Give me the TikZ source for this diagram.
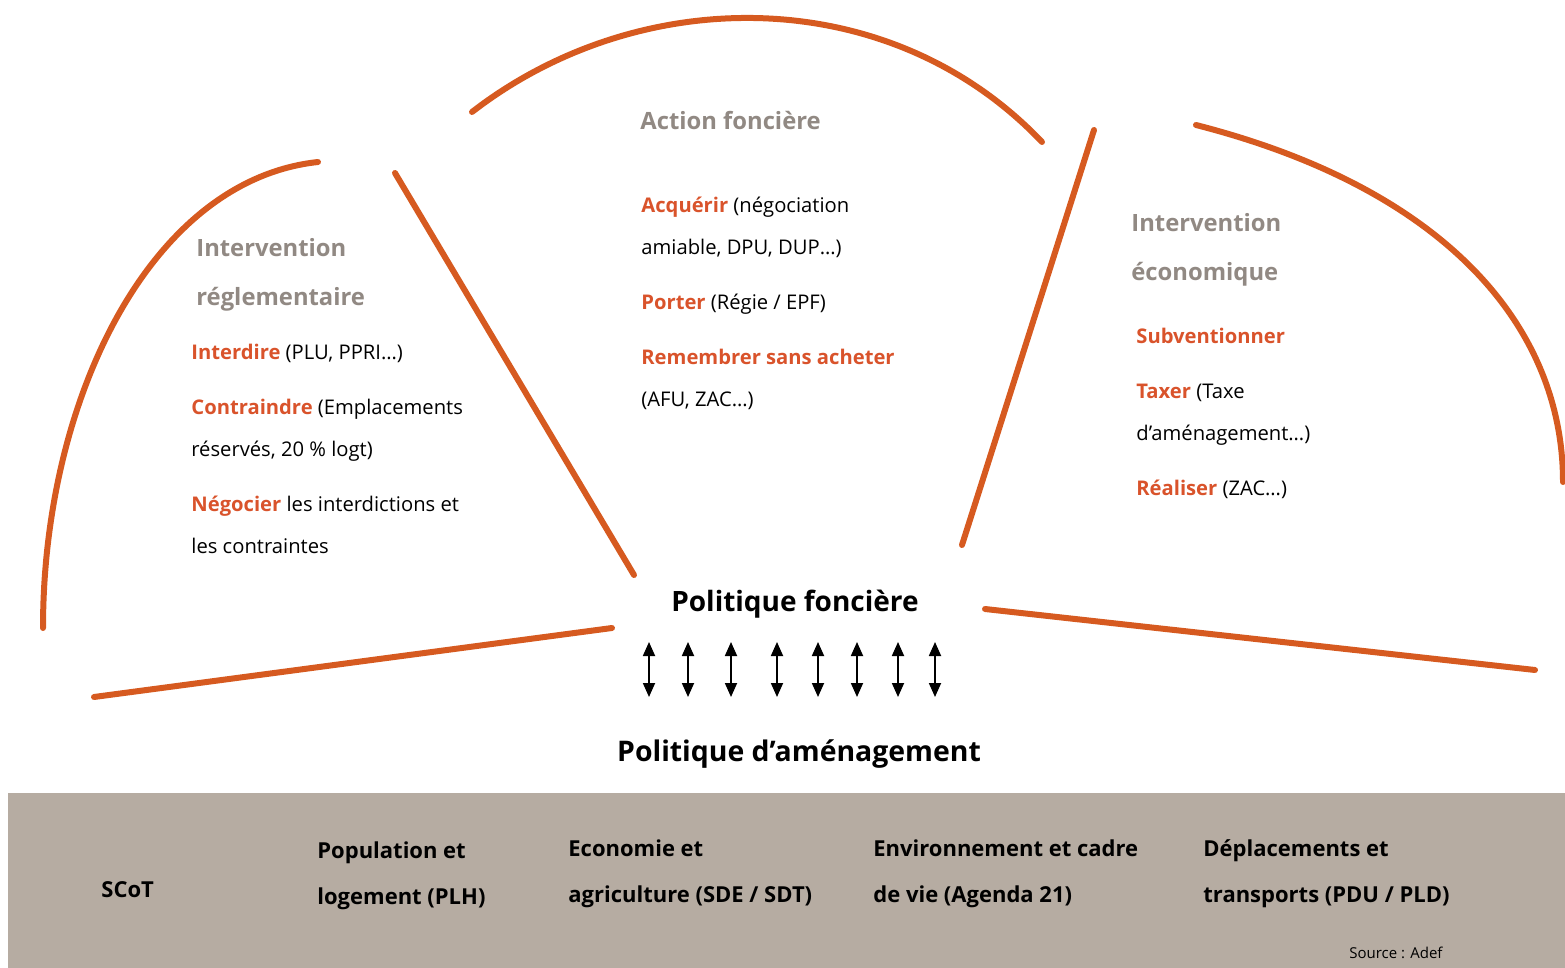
\documentclass[tikz,border=0pt]{standalone}
\usepackage{fontspec}
\setmainfont{Open Sans}
\definecolor{traitorange}{HTML}{D65A20}
\definecolor{verbeorange}{HTML}{D9532B}
\definecolor{titregris}{HTML}{918983}
\definecolor{bandegris}{HTML}{B6ACA2}
\usetikzlibrary{arrows.meta}
\newcommand{\verbe}[1]{\textcolor{verbeorange}{\textbf{#1}}}

\begin{document}
\begin{tikzpicture}[x=0.5pt, y=-0.5pt, every node/.append style={inner sep=0pt, align=left},
	trait/.style={draw=traitorange, line width=3pt, line cap=round},
	titre/.style={anchor=north west, text=titregris, font=\bfseries\fontsize{11.9}{24.5}\selectfont},
	corps/.style={anchor=north west, font=\fontsize{10.1}{21}\selectfont},
	bande/.style={anchor=north west, font=\bfseries\fontsize{11}{23}\selectfont},
	fleche/.style={{Triangle[width=6pt,length=7pt]}-{Triangle[width=6pt,length=7pt]}, line width=0.9pt}]
	\useasboundingbox (0,0) rectangle (1565,968);
	\fill[bandegris] (8,793) rectangle (1565,968);
	\draw[trait] (43,628) .. controls (43,400) and (150,180) .. (318,162);
	\draw[trait] (395,173) -- (634,575);
	\draw[trait] (472,112) .. controls (640,-18) and (890,-18) .. (1042,142);
	\draw[trait] (1094,130) -- (962,545);
	\draw[trait] (1196,125) .. controls (1450,190) and (1563,330) .. (1563,482);
	\draw[trait] (94,697) -- (612,628);
	\draw[trait] (985,609) -- (1535,670);
	\node[titre] (tr) at (196,238) {Intervention\\réglementaire};
	\node[corps] (cr) at (191,344) {\verbe{Interdire} (PLU, PPRI…)\\[6.5pt]
		\verbe{Contraindre} (Emplacements\\
		réservés, 20~\% logt)\\[6.5pt]
		\verbe{Négocier} les interdictions et\\
		les contraintes};
	\node[titre] (ta) at (640,111) {Action foncière};
	\node[corps] (ca) at (641,197) {\verbe{Acquérir} (négociation\\
		amiable, DPU, DUP…)\\[6.5pt]
		\verbe{Porter} (Régie / EPF)\\[6.5pt]
		\verbe{Remembrer sans acheter}\\
		(AFU, ZAC…)};
	\node[titre] (te) at (1131,213) {Intervention\\économique};
	\node[corps] (ce) at (1136,328) {\verbe{Subventionner}\\[6.5pt]
		\verbe{Taxer} (Taxe\\
		d’aménagement…)\\[6.5pt]
		\verbe{Réaliser} (ZAC…)};
	\node[font=\bfseries\fontsize{14}{17}\selectfont] (pf) at (795,604) {Politique foncière};
	\node[font=\bfseries\fontsize{14.2}{17}\selectfont] (pa) at (799,754) {Politique d’aménagement};
		\foreach \x [count=\i] in {649,688,731,777,818,857,898,935} {
			\coordinate (h\i) at (\x,642);
			\coordinate (b\i) at (\x,697);
			\draw[fleche] (h\i) -- (b\i);
		};
	\node[anchor=west, font=\bfseries\fontsize{11}{23}\selectfont] (b1) at (101,890) {SCoT};
	\node[bande] (b2) at (317,841) {Population et\\logement (PLH)};
	\node[bande] (b3) at (568,839) {Economie et\\agriculture (SDE / SDT)};
	\node[bande] (b4) at (873,839) {Environnement et cadre\\de vie (Agenda 21)};
	\node[bande] (b5) at (1203,839) {Déplacements et\\transports (PDU / PLD)};
	\node[anchor=west, font=\fontsize{7.5}{9}\selectfont] (src) at (1349,953) {Source : Adef};
\end{tikzpicture}
\end{document}
